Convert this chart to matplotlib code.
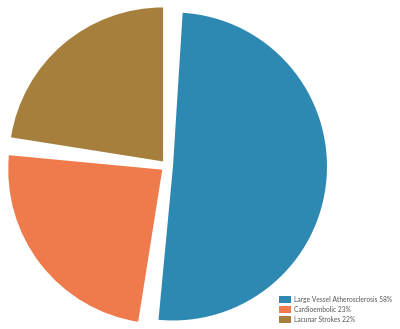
import matplotlib
matplotlib.use("Agg")
import matplotlib.pyplot as plt
from matplotlib.patches import Patch

categories = ["Large Vessel Atherosclerosis 58%", "Cardioembolic 23%", "Lacunar Strokes 22%"]
values = [51.5, 25.0, 23.5]
colors = ["#2E89B2", "#EF7A4B", "#A67F3C"]

W, H = 400, 329
fig = plt.figure(figsize=(W / 100, H / 100), dpi=100)
ax = fig.add_axes([0, 0, 1, 1])

center = (167, H - 166)
radius = 154
wedges, _ = ax.pie(values, colors=colors, startangle=88.2, counterclock=False,
                   explode=[6, 6, 6], radius=radius, center=center,
                   wedgeprops=dict(linewidth=0))
gap = 1.8
for w in wedges:
    w.set_theta1(w.theta1 + gap)
    w.set_theta2(w.theta2 - gap)

ax.set_xlim(0, W)
ax.set_ylim(0, H)
ax.set_aspect("equal")
ax.axis("off")

handles = [Patch(facecolor=c, edgecolor="none") for c in colors]
leg = fig.legend(handles, categories, loc="lower left", bbox_to_anchor=(278 / W, 5 / H),
                 frameon=False, handlelength=1.7, handleheight=1.2,
                 handletextpad=0.5, labelspacing=0.4, borderpad=0.2, borderaxespad=0,
                 prop={"family": "Lato", "size": 4.8})
for t in leg.get_texts():
    t.set_color("#555555")

fig.savefig("out.png", dpi=100)
